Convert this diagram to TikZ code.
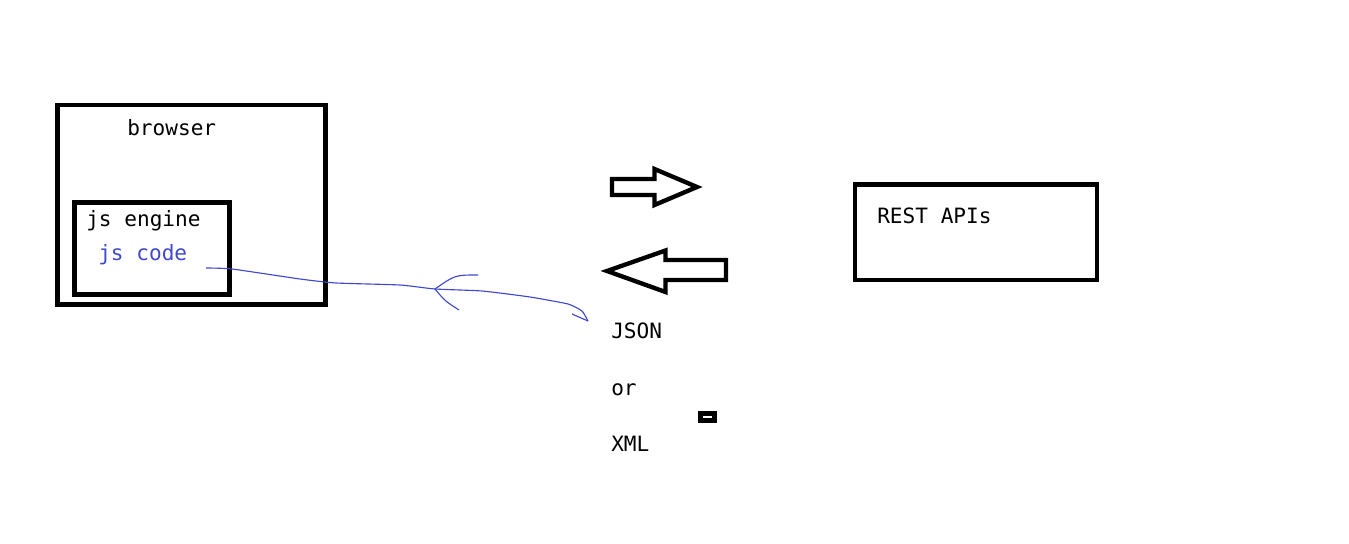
\documentclass[tikz,border=0pt]{standalone}
\usepackage{fontspec}
\setmonofont{DejaVu Sans Mono}
\definecolor{pen}{HTML}{3F48CC}
\begin{document}
\begin{tikzpicture}[x=0.025cm,y=-0.025cm]
\useasboundingbox (0,0) rectangle (1349,544);
% boxes
\begin{scope}[line width=3.5pt]
	\draw (57.5,105) rectangle (325.5,304.5);
	\draw (74.5,202.5) rectangle (229.5,294.5);
	\draw (855,184.5) rectangle (1097,280);
\end{scope}

% texts
\begin{scope}[every node/.style={anchor=base west,inner sep=0pt,font=\ttfamily\fontsize{15pt}{18pt}\selectfont}]
	\node (browser) at (127,136) {browser};
	\node (engine) at (86,227) {js engine};
	\node[text=pen] (jscode) at (98,261) {js code};
	\node (rest) at (877,224) {REST APIs};
	\node (json) at (611,339) {JSON};
	\node (or) at (611,395) {or};
	\node (xml) at (611,451) {XML};
\end{scope}

% arrows
\begin{scope}[line width=3.1pt]
	\draw (612,179) -- (654.5,179) -- (654.5,169) -- (697,187) -- (654.5,205) -- (654.5,195) -- (612,195) -- cycle;
	\draw (726,260) -- (665.5,260) -- (665.5,250.5) -- (607,271) -- (665.5,292) -- (665.5,280) -- (726,280) -- cycle;
\end{scope}

% scribble
\coordinate (tail) at (206,268);
\coordinate (barb) at (435,289);
\coordinate (tip) at (588,321);
\begin{scope}[pen,line width=0.8pt]
	\draw plot[smooth,tension=0.3] coordinates {(tail) (232,269) (300,279) (336,283) (400,285) (barb) (482,291) (530,297) (568,304) (582,311) (tip)};
	\draw (478,275) .. controls (455,275) .. (barb) .. controls (445,301) .. (459,310);
	\draw (572,314) -- (tip);
\end{scope}

\fill (698,411) rectangle (717,423);
\draw[white,line width=1pt] (703,417) -- (712,417);
\end{tikzpicture}
\end{document}
